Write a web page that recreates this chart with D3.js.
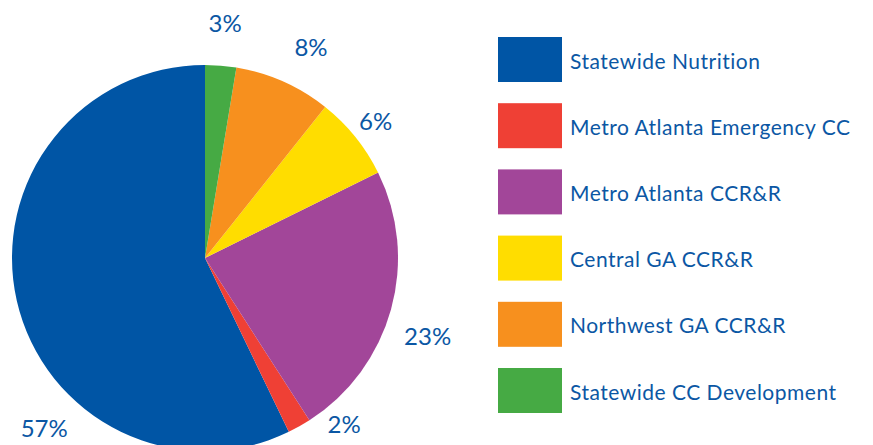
<!DOCTYPE html>
<html>
<head>
<meta charset="utf-8">
<script src="https://cdn.jsdelivr.net/npm/d3@7"></script>
<style>
  body { margin: 0; background: #fff; }
  svg { display: block; font-family: Lato, "Open Sans", sans-serif; }
</style>
</head>
<body>
<svg id="chart" width="873" height="445"></svg>
<script>
// funding shares, in legend order
const categories = ['Statewide Nutrition', 'Metro Atlanta Emergency CC', 'Metro Atlanta CCR&R',
                    'Central GA CCR&R', 'Northwest GA CCR&R', 'Statewide CC Development'];
const shares = [57.15, 1.95, 23.2, 7.0, 8.1, 2.6];
const shareLabels = ['57%', '2%', '23%', '6%', '8%', '3%'];
const colors = ['#0055a5', '#ef4035', '#a24699', '#ffdd00', '#f7901e', '#46aa44'];

// label placement (degrees clockwise from 12 o'clock, distance from centre)
const labelAngle = [223.4, 140.1, 109.4, 51.2, 26.7, 4.9];
const labelRadius = [234, 217, 236, 219, 236, 236];

const textColor = '#0b57a4';
const cx = 205, cy = 258, r = 193;

const data = categories.map((c, i) => ({ name: c, value: shares[i], label: shareLabels[i], color: colors[i] }));

const svg = d3.select('#chart');

// pie runs counter-clockwise from the top so the last slice sits just right of 12 o'clock
const pie = d3.pie().sort(null).value(d => d.value).startAngle(2 * Math.PI).endAngle(0);
const arc = d3.arc().innerRadius(0).outerRadius(r);

const g = svg.append('g').attr('transform', `translate(${cx},${cy})`);

g.selectAll('path')
  .data(pie(data))
  .join('path')
  .attr('d', arc)
  .attr('fill', d => d.data.color);

g.selectAll('text.pct')
  .data(data)
  .join('text')
  .attr('class', 'pct')
  .attr('x', (d, i) => labelRadius[i] * Math.sin(labelAngle[i] * Math.PI / 180))
  .attr('y', (d, i) => -labelRadius[i] * Math.cos(labelAngle[i] * Math.PI / 180) + 9)
  .attr('text-anchor', 'middle')
  .attr('font-size', 24)
  .attr('fill', textColor)
  .text(d => d.label);

// legend
const legendY = d3.scaleLinear().domain([0, categories.length - 1]).range([37, 368]);

const legend = svg.append('g').selectAll('g')
  .data(data)
  .join('g')
  .attr('transform', (d, i) => `translate(498,${legendY(i)})`);

legend.append('rect')
  .attr('width', 64)
  .attr('height', 45)
  .attr('fill', d => d.color);

legend.append('text')
  .attr('x', 72)
  .attr('y', 31.5)
  .attr('font-size', 21)
  .attr('letter-spacing', 0.5)
  .attr('fill', textColor)
  .text(d => d.name);
</script>
</body>
</html>
